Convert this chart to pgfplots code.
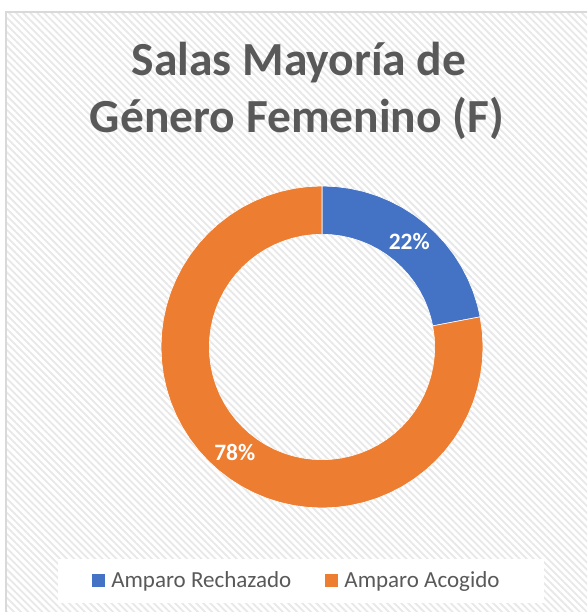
\documentclass[border=0pt]{standalone}
\usepackage{pgfplots}
\pgfplotsset{compat=1.18}
\usepackage{fontspec}
\setmainfont{Carlito}
\usetikzlibrary{patterns.meta}
\definecolor{cblue}{HTML}{4472C4}
\definecolor{corange}{HTML}{ED7D31}
\definecolor{ctext}{HTML}{595959}
% Shares: Amparo Rechazado 22, Amparo Acogido 78 -> 79.2 deg / 280.8 deg, starting at 90 deg, clockwise
\begin{document}
\begin{tikzpicture}
\useasboundingbox (0,0) rectangle (587pt,612pt);
\fill[white] (0,0) rectangle (587pt,612pt);
\fill[pattern={Lines[angle=-45,distance=5pt,line width=1.8pt]}, pattern color=black!9] (6pt,0) rectangle (587pt,600pt);
\draw[black!15, line width=1.2pt] (6pt,0) -- (6pt,600pt) -- (587pt,600pt);
\fill[white] (58pt,9pt) rectangle (544pt,53pt);
\node[anchor=base, text=ctext, font=\bfseries\fontsize{47.5}{57}\selectfont] at (299pt,536pt) {Salas Mayoría de};
\node[anchor=base, text=ctext, font=\bfseries\fontsize{47.5}{57}\selectfont] at (297pt,479pt) {Género Femenino (F)};
\begin{axis}[
  at={(322pt,265pt)}, anchor=center,
  scale only axis, width=322pt, height=322pt,
  xmin=-1, xmax=1, ymin=-1, ymax=1,
  hide axis, clip=false,
  legend columns=2,
  legend style={at={(axis description cs:-0.2174,-0.2252)}, anchor=west, draw=none, fill=none,
    inner sep=0pt, nodes={inner sep=0pt},
    font=\fontsize{23}{27}\selectfont, text=ctext,
    /tikz/every odd column/.append style={column sep=6pt},
    /tikz/every even column/.append style={column sep=33pt}},
  legend image code/.code={\fill[#1] (0pt,-6.5pt) rectangle (13.5pt,7.5pt);},
]
\addplot[data cs=polar, fill=cblue, draw=white, line width=0.6pt] coordinates {
(90,1) (85,1) (80,1) (75,1) (70,1) (65,1) (60,1) (55,1) (50,1) (45,1) (40,1) (35,1) (30,1) (25,1) (20,1) (15,1) (10.8,1)
(10.8,0.7) (15,0.7) (20,0.7) (25,0.7) (30,0.7) (35,0.7) (40,0.7) (45,0.7) (50,0.7) (55,0.7) (60,0.7) (65,0.7) (70,0.7) (75,0.7) (80,0.7) (85,0.7) (90,0.7) (90,1)
};
\addlegendentry{Amparo Rechazado}
\addplot[data cs=polar, fill=corange, draw=white, line width=0.6pt] coordinates {
(10.8,1) (5,1) (0,1) (-5,1) (-10,1) (-15,1) (-20,1) (-25,1) (-30,1) (-35,1) (-40,1) (-45,1) (-50,1) (-55,1) (-60,1) (-65,1) (-70,1) (-75,1) (-80,1) (-85,1) (-90,1) (-95,1) (-100,1) (-105,1) (-110,1) (-115,1) (-120,1) (-125,1) (-130,1) (-135,1) (-140,1) (-145,1) (-150,1) (-155,1) (-160,1) (-165,1) (-170,1) (-175,1) (-180,1) (-185,1) (-190,1) (-195,1) (-200,1) (-205,1) (-210,1) (-215,1) (-220,1) (-225,1) (-230,1) (-235,1) (-240,1) (-245,1) (-250,1) (-255,1) (-260,1) (-265,1) (-270,1)
(-270,0.7) (-265,0.7) (-260,0.7) (-255,0.7) (-250,0.7) (-245,0.7) (-240,0.7) (-235,0.7) (-230,0.7) (-225,0.7) (-220,0.7) (-215,0.7) (-210,0.7) (-205,0.7) (-200,0.7) (-195,0.7) (-190,0.7) (-185,0.7) (-180,0.7) (-175,0.7) (-170,0.7) (-165,0.7) (-160,0.7) (-155,0.7) (-150,0.7) (-145,0.7) (-140,0.7) (-135,0.7) (-130,0.7) (-125,0.7) (-120,0.7) (-115,0.7) (-110,0.7) (-105,0.7) (-100,0.7) (-95,0.7) (-90,0.7) (-85,0.7) (-80,0.7) (-75,0.7) (-70,0.7) (-65,0.7) (-60,0.7) (-55,0.7) (-50,0.7) (-45,0.7) (-40,0.7) (-35,0.7) (-30,0.7) (-25,0.7) (-20,0.7) (-15,0.7) (-10,0.7) (-5,0.7) (0,0.7) (5,0.7) (10.8,0.7) (10.8,1)
};
\addlegendentry{Amparo Acogido}
\addplot[data cs=polar, draw=none, mark=none, forget plot, nodes near coords, point meta=explicit symbolic,
  nodes near coords style={anchor=center, text=white, font=\bfseries\fontsize{23.5}{28}\selectfont}]
  coordinates {(50.4,0.85) [22\%] (230.4,0.85) [78\%]};
\end{axis}
\end{tikzpicture}
\end{document}
